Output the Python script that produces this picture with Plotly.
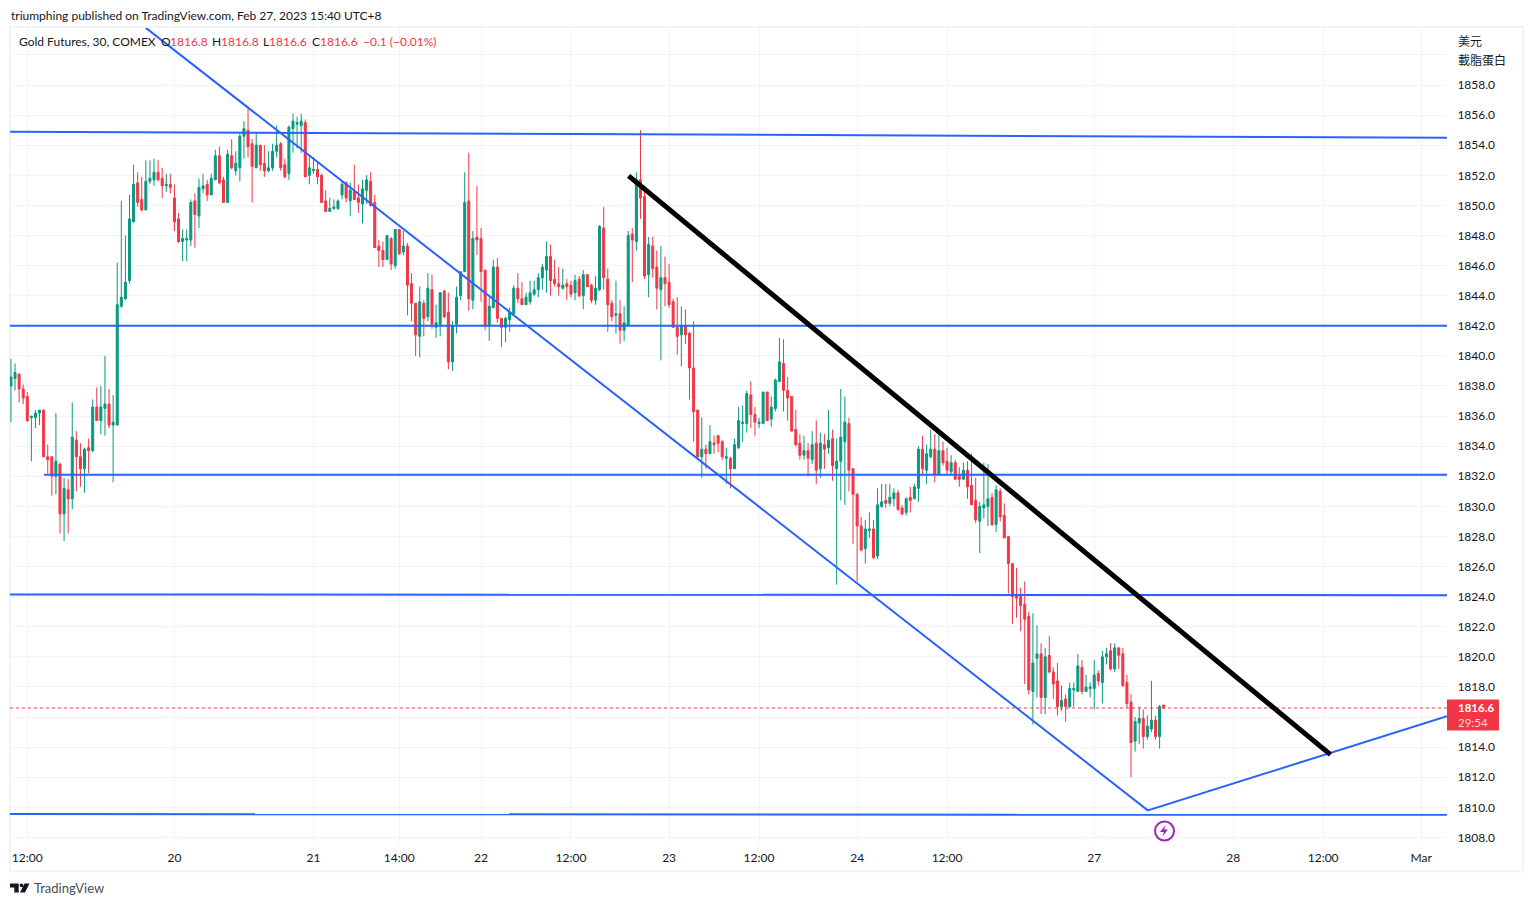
import plotly.graph_objects as go

# Gold futures, 30 min bars
opens = [1838.0,1838.5,1838.8,1837.8,1837.3,1835.9,1835.9,1836.2,1836.4,1833.3,
    1833.3,1832.0,1832.8,1829.5,1831.1,1830.5,1834.4,1833.3,1832.5,1833.9,
    1833.7,1836.6,1835.7,1836.5,1836.8,1835.4,1835.4,1843.3,1843.8,1845.0,
    1848.9,1851.5,1850.4,1849.7,1851.6,1851.7,1852.2,1851.8,1851.3,1851.4,
    1850.5,1849.1,1847.6,1847.7,1847.7,1850.3,1849.3,1851.1,1851.4,1850.7,
    1851.7,1853.3,1851.7,1850.2,1853.3,1852.3,1852.5,1854.6,1855.0,1854.1,
    1852.5,1854.0,1852.8,1852.3,1852.5,1853.6,1854.1,1852.7,1852.1,1855.1,
    1855.4,1855.3,1855.5,1852.0,1852.3,1852.4,1852.0,1850.3,1849.6,1849.8,
    1849.8,1850.7,1851.5,1850.3,1850.9,1850.5,1850.1,1851.0,1851.6,1850.2,
    1847.3,1847.0,1846.4,1847.8,1846.0,1848.4,1846.9,1847.3,1844.8,1843.5,
    1841.3,1843.5,1842.6,1844.4,1841.9,1842.1,1844.3,1842.9,1839.6,1842.1,
    1844.0,1845.6,1850.3,1843.7,1847.9,1847.8,1845.7,1842.0,1843.2,1845.9,
    1842.5,1841.9,1842.4,1842.8,1844.5,1843.8,1843.4,1843.6,1844.1,1844.4,
    1845.2,1845.7,1846.6,1845.1,1844.8,1844.5,1844.8,1844.7,1844.2,1845.1,
    1844.0,1845.4,1844.7,1843.7,1844.4,1848.5,1845.1,1843.5,1842.7,1842.8,
    1841.7,1842.0,1848.1,1847.6,1851.7,1850.6,1845.4,1847.3,1845.9,1844.4,
    1845.2,1844.9,1843.6,1841.9,1841.4,1842.0,1841.5,1839.2,1836.4,1833.3,
    1833.8,1833.5,1834.2,1834.7,1834.3,1833.2,1833.2,1832.5,1833.9,1835.5,
    1835.5,1837.4,1836.1,1835.5,1835.5,1837.6,1835.8,1836.5,1838.3,1839.5,
    1837.7,1837.3,1835.1,1834.2,1833.4,1833.7,1833.1,1834.2,1832.5,1834.1,
    1833.9,1834.5,1832.5,1833.0,1834.3,1835.5,1832.5,1830.8,1828.7,1827.2,
    1828.4,1828.5,1826.7,1830.0,1830.4,1830.2,1830.5,1830.9,1829.9,1829.6,
    1830.6,1830.5,1831.2,1833.8,1832.4,1833.3,1833.8,1832.1,1833.7,1833.0,
    1832.3,1832.9,1832.0,1831.8,1832.4,1831.4,1830.4,1829.0,1829.9,1830.0,
    1830.6,1828.8,1831.0,1829.4,1828.0,1826.2,1824.1,1824.0,1823.5,1822.7,
    1817.7,1819.9,1820.2,1817.3,1820.1,1819.0,1818.4,1816.7,1817.2,1816.7,
    1817.8,1817.7,1819.3,1817.7,1817.9,1817.9,1818.9,1818.3,1820.0,1820.4,
    1819.2,1820.6,1820.2,1818.3,1817.0,1814.4,1815.6,1815.9,1814.7,1815.2,
    1815.8,1814.7,1816.8]

highs = [1839.8,1839.5,1838.8,1838.1,1837.6,1836.0,1836.4,1836.4,1836.4,1834.1,
    1833.3,1836.2,1832.9,1831.9,1831.8,1836.9,1835.0,1834.2,1833.9,1834.5,
    1837.1,1837.9,1838.0,1840.0,1837.8,1837.4,1846.2,1850.3,1848.0,1850.7,
    1852.7,1852.2,1851.9,1853.0,1853.0,1853.1,1853.0,1852.5,1852.1,1852.1,
    1851.4,1849.5,1848.4,1848.4,1850.4,1850.8,1851.8,1852.1,1851.7,1852.1,
    1853.7,1853.9,1851.9,1853.7,1854.4,1853.6,1854.8,1855.6,1856.4,1854.4,
    1854.8,1854.0,1854.0,1853.6,1854.1,1855.3,1854.2,1853.1,1855.3,1856.1,
    1855.9,1856.1,1855.7,1853.3,1853.2,1852.9,1852.1,1851.0,1850.5,1850.4,
    1850.4,1851.6,1851.6,1851.5,1852.7,1851.4,1851.7,1852.0,1852.2,1850.7,
    1847.7,1847.6,1848.0,1847.9,1848.4,1848.4,1848.3,1847.5,1845.5,1843.5,
    1844.6,1843.7,1845.5,1845.4,1843.4,1844.2,1844.4,1844.2,1842.3,1844.6,
    1845.6,1852.2,1853.5,1848.3,1851.3,1848.5,1845.7,1843.9,1846.4,1846.5,
    1842.5,1842.6,1843.2,1844.7,1845.5,1844.9,1844.2,1845.0,1845.0,1845.5,
    1846.1,1847.6,1847.4,1846.4,1845.9,1845.8,1845.1,1845.0,1845.4,1845.3,
    1845.7,1845.4,1844.8,1845.3,1848.7,1849.9,1845.8,1843.7,1845.0,1843.7,
    1843.3,1848.3,1848.5,1852.2,1855.0,1851.3,1847.9,1847.9,1847.0,1847.3,
    1846.6,1846.1,1843.8,1843.9,1843.3,1843.1,1841.6,1842.3,1836.4,1835.9,
    1834.1,1835.4,1834.7,1834.7,1834.4,1833.9,1833.3,1834.5,1836.6,1836.7,
    1837.7,1838.3,1836.6,1835.9,1837.6,1837.6,1837.3,1838.5,1841.2,1841.1,
    1838.6,1837.3,1836.4,1834.8,1834.7,1834.2,1835.0,1835.7,1834.9,1834.8,
    1836.4,1835.1,1834.5,1837.8,1837.3,1835.9,1832.5,1830.9,1829.3,1829.1,
    1829.6,1829.1,1831.2,1831.5,1831.5,1831.5,1831.2,1831.1,1830.1,1830.6,
    1831.3,1831.5,1834.0,1834.7,1834.1,1835.1,1834.8,1834.9,1834.3,1833.9,
    1833.4,1833.1,1832.6,1832.9,1833.0,1833.5,1831.9,1830.3,1832.9,1832.8,
    1830.9,1831.4,1831.2,1830.2,1828.0,1826.2,1825.9,1824.6,1825.0,1823.0,
    1822.9,1822.1,1820.9,1820.6,1821.4,1819.3,1819.6,1818.1,1817.5,1818.3,
    1818.3,1820.2,1819.8,1818.8,1818.3,1819.8,1819.1,1820.4,1820.6,1820.9,
    1820.9,1820.6,1820.6,1818.8,1817.5,1816.0,1816.7,1816.5,1816.1,1818.4,
    1816.1,1816.8,1816.8]

lows = [1835.6,1837.7,1836.9,1836.8,1835.6,1833.0,1835.2,1835.4,1833.3,1832.2,
    1830.7,1830.8,1828.2,1827.7,1828.2,1829.8,1831.0,1831.3,1830.9,1832.2,
    1833.6,1835.7,1834.8,1834.7,1835.2,1831.6,1835.4,1843.2,1843.7,1844.8,
    1848.9,1849.9,1849.6,1849.7,1851.4,1851.3,1851.6,1850.5,1850.9,1850.8,
    1848.3,1847.5,1846.3,1846.3,1847.3,1847.2,1848.5,1850.8,1850.3,1850.7,
    1851.7,1851.4,1850.2,1850.2,1852.4,1852.0,1851.6,1853.1,1853.2,1850.2,
    1852.5,1852.3,1851.9,1852.2,1852.3,1853.2,1852.3,1851.8,1851.7,1853.5,
    1853.8,1853.5,1851.9,1851.4,1852.1,1851.4,1850.2,1849.6,1849.6,1849.7,
    1849.7,1850.4,1850.2,1849.3,1850.4,1849.5,1848.8,1850.1,1849.9,1847.2,
    1845.9,1845.9,1846.4,1845.7,1845.8,1846.7,1846.7,1842.7,1842.3,1840.0,
    1839.9,1841.3,1842.3,1841.8,1841.2,1841.3,1842.5,1839.1,1839.0,1841.5,
    1843.7,1845.6,1843.0,1843.1,1846.7,1843.6,1841.7,1841.0,1843.2,1842.2,
    1840.6,1840.9,1841.6,1842.8,1843.5,1843.4,1843.4,1843.4,1844.0,1843.9,
    1844.4,1844.2,1844.0,1844.6,1844.0,1844.4,1843.7,1843.9,1843.7,1843.9,
    1843.1,1844.6,1843.5,1843.4,1844.3,1844.4,1841.6,1842.3,1841.5,1840.8,
    1841.0,1842.0,1844.9,1847.0,1849.1,1845.1,1843.9,1845.2,1843.1,1839.7,
    1843.3,1843.2,1841.9,1840.1,1839.3,1840.8,1837.1,1834.3,1833.1,1831.9,
    1832.5,1833.5,1833.5,1833.6,1833.1,1831.5,1831.2,1832.5,1833.8,1834.3,
    1834.9,1835.2,1834.7,1835.2,1835.5,1835.7,1835.3,1836.3,1838.3,1836.3,
    1835.7,1835.0,1834.0,1833.1,1833.1,1832.0,1832.8,1831.5,1831.9,1832.5,
    1833.5,1831.7,1824.8,1830.4,1830.1,1831.0,1827.5,1825.0,1827.0,1826.2,
    1827.9,1826.5,1826.5,1829.9,1829.9,1830.0,1830.0,1829.7,1829.4,1829.4,
    1829.6,1830.5,1830.3,1832.0,1831.5,1833.2,1831.6,1832.1,1832.7,1832.1,
    1832.1,1831.8,1831.3,1831.8,1830.5,1830.1,1828.9,1826.9,1829.2,1828.7,
    1828.7,1828.3,1829.0,1827.9,1824.2,1822.2,1822.6,1821.7,1818.2,1817.5,
    1815.5,1817.3,1816.2,1816.2,1818.9,1817.2,1816.1,1816.4,1815.7,1816.6,
    1816.7,1817.7,1817.5,1817.7,1817.3,1816.5,1818.1,1816.9,1819.5,1819.1,
    1819.0,1819.2,1818.0,1816.6,1812.0,1813.7,1814.2,1813.9,1814.5,1815.0,
    1814.5,1813.9,1816.6]

closes = [1838.6,1838.9,1837.8,1837.2,1835.7,1836.0,1836.2,1836.4,1833.3,1833.1,
    1832.0,1833.0,1829.5,1831.2,1830.5,1834.6,1833.3,1832.5,1833.8,1833.7,
    1836.6,1835.7,1836.6,1836.8,1835.4,1835.6,1843.4,1843.9,1844.9,1849.1,
    1851.4,1850.2,1849.7,1851.6,1851.8,1852.2,1851.7,1851.3,1851.4,1851.2,
    1848.9,1847.6,1847.8,1847.8,1850.2,1849.4,1851.2,1851.3,1850.7,1851.8,
    1853.3,1851.5,1850.2,1853.4,1852.5,1852.8,1854.6,1855.1,1853.9,1852.6,
    1854.0,1852.7,1852.3,1852.5,1853.6,1854.0,1852.5,1851.9,1855.2,1855.6,
    1855.5,1855.6,1851.9,1852.5,1852.4,1851.9,1850.2,1849.6,1849.8,1849.9,
    1850.3,1851.4,1850.5,1851.0,1850.4,1850.2,1851.1,1851.7,1850.0,1847.2,
    1847.0,1846.4,1848.0,1846.1,1848.4,1846.8,1847.3,1844.7,1843.5,1841.4,
    1843.6,1842.5,1844.5,1842.1,1842.2,1844.2,1842.6,1839.6,1842.0,1843.9,
    1845.6,1850.2,1843.8,1847.8,1847.7,1845.6,1842.0,1843.3,1845.9,1842.5,
    1841.9,1842.5,1842.9,1844.5,1843.8,1843.4,1843.9,1844.2,1844.4,1845.2,
    1845.9,1846.6,1845.0,1844.8,1844.6,1844.7,1844.6,1844.1,1845.0,1844.0,
    1845.4,1844.6,1843.7,1844.5,1848.6,1845.2,1843.4,1842.6,1842.8,1841.7,
    1842.2,1848.0,1847.7,1851.7,1850.5,1845.3,1847.4,1845.8,1844.5,1845.2,
    1844.8,1843.4,1841.9,1841.3,1842.0,1841.4,1839.2,1836.3,1833.3,1833.8,
    1833.5,1834.3,1834.1,1834.2,1833.3,1833.3,1832.5,1834.1,1835.7,1835.6,
    1837.5,1836.1,1835.6,1835.6,1837.6,1835.7,1836.6,1838.4,1839.6,1837.7,
    1837.2,1835.0,1834.1,1833.4,1833.7,1833.2,1834.1,1832.4,1834.2,1833.8,
    1834.4,1832.7,1833.0,1834.6,1835.6,1832.4,1830.8,1828.7,1827.1,1828.5,
    1828.5,1826.6,1830.1,1830.3,1830.2,1830.6,1830.9,1829.8,1829.5,1830.5,
    1830.4,1831.3,1833.8,1832.5,1833.5,1833.8,1832.1,1833.7,1832.9,1832.4,
    1832.9,1831.8,1831.8,1832.4,1831.3,1830.1,1829.1,1830.0,1830.1,1830.5,
    1828.8,1831.1,1829.3,1827.9,1826.2,1824.0,1823.9,1823.4,1822.5,1817.8,
    1819.6,1820.2,1817.3,1820.0,1819.0,1818.2,1816.7,1817.1,1816.7,1817.9,
    1817.9,1819.4,1817.7,1818.0,1818.0,1818.8,1818.4,1820.0,1820.2,1819.2,
    1820.6,1820.1,1818.1,1816.9,1814.3,1815.7,1815.9,1814.7,1815.4,1815.8,
    1814.7,1816.7,1816.6]

# x axis is bar number, so weekend gaps disappear like on the original
time_ticks = [4, 40, 74, 95, 115, 137, 161, 183, 207, 229, 265, 299, 321, 345]
time_labels = ['12:00', '20', '21', '14:00', '22', '12:00', '23', '12:00', '24', '12:00', '27', '28', '12:00', 'Mar']
price_ticks = list(range(1808, 1862, 2))
# 1816 sits under the last price tag and 1860 under the unit text, gridlines only
price_labels = ['' if p in (1816, 1860) else f'{p:.1f}' for p in price_ticks]

# drawn levels and trend lines: (bar number, price)
x_left, x_right = -0.23, 351.3
level_top = ([x_left, x_right], [1854.9, 1854.5])
level_1842 = ([x_left, x_right], [1842.0, 1842.0])
level_1832 = ([8.1, x_right], [1832.1, 1832.1])
level_1824 = ([x_left, x_right], [1824.15, 1824.1])
level_bottom = ([x_left, x_right], [1809.55, 1809.5])
channel_x = [33.0, 278.1, x_right]
channel_y = [1861.8, 1809.8, 1816.05]
black_x = [151.1, 322.8]
black_y = [1851.96, 1813.5]
last_price = 1816.6

GREEN = '#089981'
RED = '#F23645'
BLUE = '#2962FF'
GRID = '#f0f3fa'
TEXT = '#131722'
FONT = 'Lato'

W, H = 1533, 907
L, R, T, B = 10, 1447, 28, 843.5

# helpers to place page furniture by pixel
def fx(px):
    return (px - L) / (R - L)

def fy(py):
    return (B - py) / (B - T)

def label(px, py, text, size=12, color=TEXT, anchor='left', font=FONT):
    return dict(x=fx(px), y=fy(py), xref='paper', yref='paper', text=text, showarrow=False,
                xanchor=anchor, yanchor='middle', align=anchor, borderpad=0,
                font=dict(family=font, size=size, color=color))

def box(x0, y0, x1, y1, **kw):
    return dict(type='rect', xref='paper', yref='paper', x0=fx(x0), y0=fy(y0), x1=fx(x1), y1=fy(y1), **kw)

def poly(points, color):
    d = 'M ' + ' L '.join(f'{fx(a):.5f},{fy(b):.5f}' for a, b in points) + ' Z'
    return dict(type='path', xref='paper', yref='paper', path=d, fillcolor=color, line=dict(width=0))

fig = go.Figure()

fig.add_trace(go.Candlestick(
    x=list(range(len(closes))), open=opens, high=highs, low=lows, close=closes,
    increasing=dict(line=dict(color=GREEN, width=1), fillcolor=GREEN),
    decreasing=dict(line=dict(color=RED, width=1), fillcolor=RED),
    whiskerwidth=0, showlegend=False, hoverinfo='skip'))

fig.add_trace(go.Scatter(x=[x_left, x_right], y=[last_price, last_price], mode='lines',
                         line=dict(color=RED, width=1, dash='dot'), showlegend=False, hoverinfo='skip'))

for xs, ys in (level_top, level_1842, level_1832, level_1824, level_bottom):
    fig.add_trace(go.Scatter(x=xs, y=ys, mode='lines', line=dict(color=BLUE, width=2),
                             showlegend=False, hoverinfo='skip'))
fig.add_trace(go.Scatter(x=channel_x, y=channel_y, mode='lines', line=dict(color=BLUE, width=2),
                         showlegend=False, hoverinfo='skip'))
fig.add_trace(go.Scatter(x=black_x, y=black_y, mode='lines', line=dict(color='black', width=5),
                         showlegend=False, hoverinfo='skip'))

annotations = [
    label(10, 15, 'triumphing published on TradingView.com, Feb 27, 2023 15:40 UTC+8'),
    label(18, 42, 'Gold Futures, 30, COMEX'),
    label(160, 42, 'O'), label(169, 42, '1816.8', color=RED),
    label(211, 42, 'H'), label(220, 42, '1816.8', color=RED),
    label(262, 42, 'L'), label(268, 42, '1816.6', color=RED),
    label(311, 42, 'C'), label(319, 42, '1816.6', color=RED),
    label(362, 42, '−0.1 (−0.01%)', color=RED),
    label(1457, 41, '美元', font='Noto Sans CJK TC'),
    label(1457, 60, '載脂蛋白', font='Noto Sans CJK TC'),
    label(1457, 715.5, "<b>1816.6</b><br><span style='color:#ffd6da'>29:54</span>", size=11.5, color='white'),
    label(33, 889, 'TradingView', size=13, color='#4a4e57'),
]

shapes = [
    box(10, 27, 1523, 872, line=dict(color=GRID, width=2), layer='below'),
    box(1447, 700, 1499, 731, fillcolor=RED, line=dict(width=0)),
    # news marker
    dict(type='circle', xref='paper', yref='paper', x0=fx(1155), x1=fx(1174), y0=fy(822), y1=fy(841),
         line=dict(color='#9C27B0', width=2), fillcolor='white'),
    poly([(1165.5, 825.5), (1160, 832.5), (1163.8, 832.5), (1162.5, 837), (1168, 830), (1164.2, 830)], '#9C27B0'),
    # TradingView logo
    poly([(10, 884), (18.7, 884), (18.7, 893), (14.3, 893), (14.3, 888), (10, 888)], TEXT),
    dict(type='circle', xref='paper', yref='paper', x0=fx(19.6), x1=fx(23.4), y0=fy(884), y1=fy(887.8),
         fillcolor=TEXT, line=dict(width=0)),
    poly([(24.5, 884), (29.5, 884), (25, 893), (20, 893)], TEXT),
]

fig.update_layout(
    width=W, height=H,
    margin=dict(l=L, r=W - R, t=T, b=H - B, pad=0, autoexpand=False),
    paper_bgcolor='white', plot_bgcolor='white',
    font=dict(family=FONT, size=12, color=TEXT),
    boxgap=0.3,
    showlegend=False,
    annotations=annotations,
    shapes=shapes,
    xaxis=dict(range=[x_left, x_right], rangeslider=dict(visible=False), tickmode='array',
               tickvals=time_ticks, ticktext=time_labels, showgrid=True, gridcolor=GRID, gridwidth=1,
               zeroline=False, showline=False, ticks='outside', ticklen=4, tickcolor='rgba(0,0,0,0)',
               tickangle=0, tickfont=dict(family=FONT, size=12, color=TEXT)),
    yaxis=dict(range=[1807.63, 1861.79], side='right', tickmode='array', tickvals=price_ticks,
               ticktext=price_labels, showgrid=True, gridcolor=GRID, gridwidth=1, zeroline=False,
               showline=False, ticks='outside', ticklen=7, tickcolor='rgba(0,0,0,0)',
               tickfont=dict(family=FONT, size=12, color=TEXT)),
)

fig.write_html("out.html", config=dict(displayModeBar=False),
               post_script="document.body.style.margin='0';document.body.style.overflow='hidden';")
